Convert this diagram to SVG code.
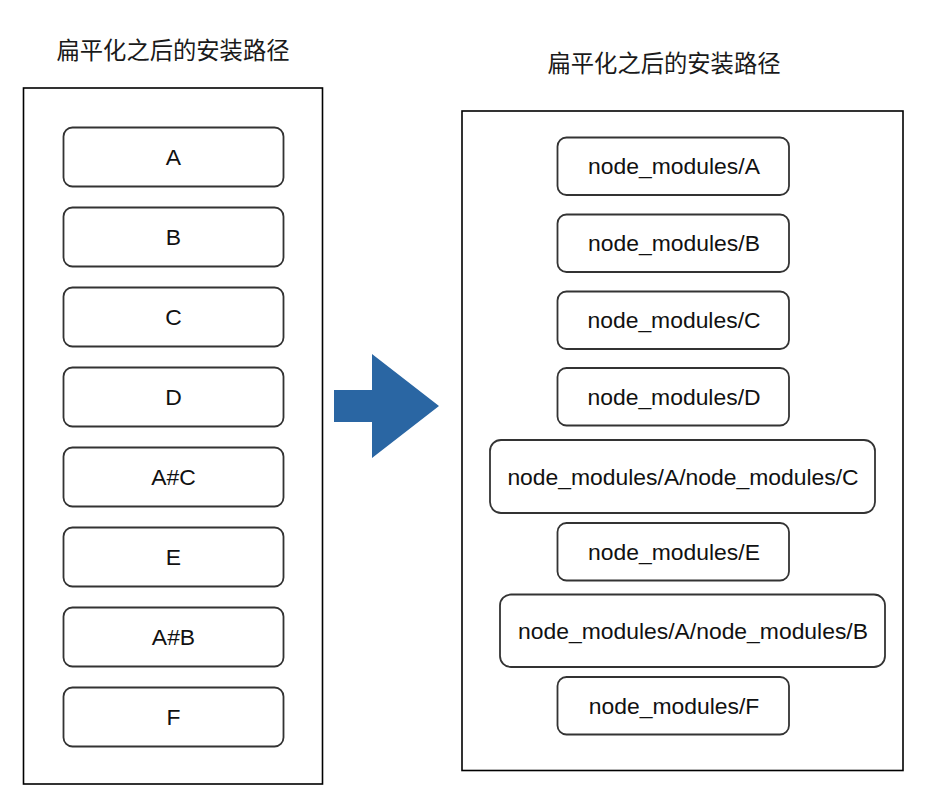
<svg xmlns="http://www.w3.org/2000/svg" width="932" height="794" viewBox="0 0 932 794">
<style>
.bg{fill:#ffffff}
.container{fill:#ffffff;stroke:#000000;stroke-width:1.6}
.node rect{fill:#ffffff;stroke:#333333;stroke-width:1.8}
.lbl{font-family:"Liberation Sans",Arial,"Noto Sans CJK SC",sans-serif;font-size:22.9px;fill:#111111;text-anchor:middle;dominant-baseline:central}
.title{font-family:"Noto Sans CJK SC","Liberation Sans",sans-serif;font-size:23.3px;fill:#1a1a1a;text-anchor:middle;dominant-baseline:central}
.arrow{fill:#2a66a3}
</style>
<rect class="bg" x="0" y="0" width="932" height="794"/>

<g id="left-title"><text class="title" x="173" y="49">扁平化之后的安装路径</text></g>
<g id="right-title"><text class="title" x="664" y="62">扁平化之后的安装路径</text></g>

<g id="left-container"><rect class="container" x="23.5" y="88" width="299" height="696"/></g>
<g id="right-container"><rect class="container" x="462" y="111" width="441" height="659.5"/></g>

<g id="nA" class="node"><rect x="63.5" y="127.5" width="220" height="59" rx="9"/><text class="lbl" x="173.5" y="157">A</text></g>
<g id="nB" class="node"><rect x="63.5" y="207.5" width="220" height="59" rx="9"/><text class="lbl" x="173.5" y="237">B</text></g>
<g id="nC" class="node"><rect x="63.5" y="287.5" width="220" height="59" rx="9"/><text class="lbl" x="173.5" y="317">C</text></g>
<g id="nD" class="node"><rect x="63.5" y="367.5" width="220" height="59" rx="9"/><text class="lbl" x="173.5" y="397">D</text></g>
<g id="nAC" class="node"><rect x="63.5" y="447.5" width="220" height="59" rx="9"/><text class="lbl" x="173.5" y="477">A#C</text></g>
<g id="nE" class="node"><rect x="63.5" y="527.5" width="220" height="59" rx="9"/><text class="lbl" x="173.5" y="557">E</text></g>
<g id="nAB" class="node"><rect x="63.5" y="607.5" width="220" height="59" rx="9"/><text class="lbl" x="173.5" y="637">A#B</text></g>
<g id="nF" class="node"><rect x="63.5" y="687.5" width="220" height="59" rx="9"/><text class="lbl" x="173.5" y="717">F</text></g>

<g id="connectors">
<polygon class="arrow" points="334,390 372,390 372,354 439,406 372,458 372,422 334,422"/>
</g>

<g id="rA" class="node"><rect x="557.5" y="137.5" width="231.5" height="57.5" rx="9"/><text class="lbl" x="674" y="166">node_modules/A</text></g>
<g id="rB" class="node"><rect x="557.5" y="214.5" width="231.5" height="57.5" rx="9"/><text class="lbl" x="674" y="243">node_modules/B</text></g>
<g id="rC" class="node"><rect x="557.5" y="291.5" width="231.5" height="57.5" rx="9"/><text class="lbl" x="674" y="320">node_modules/C</text></g>
<g id="rD" class="node"><rect x="557.5" y="368" width="231.5" height="57.5" rx="9"/><text class="lbl" x="674" y="397">node_modules/D</text></g>
<g id="rAC" class="node"><rect x="490" y="440" width="385" height="73" rx="11"/><text class="lbl" x="683" y="476.5">node_modules/A/node_modules/C</text></g>
<g id="rE" class="node"><rect x="557.5" y="523" width="231.5" height="57.5" rx="9"/><text class="lbl" x="674" y="552">node_modules/E</text></g>
<g id="rAB" class="node"><rect x="500" y="594.5" width="385" height="72.5" rx="11"/><text class="lbl" x="693" y="631">node_modules/A/node_modules/B</text></g>
<g id="rF" class="node"><rect x="557.5" y="677" width="231.5" height="57.5" rx="9"/><text class="lbl" x="674" y="706">node_modules/F</text></g>
</svg>
